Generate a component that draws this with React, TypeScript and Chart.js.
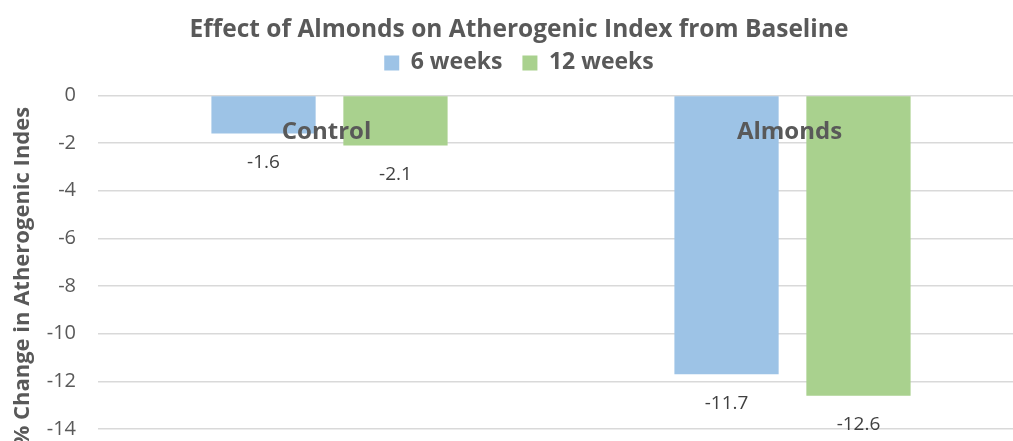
import React, { useEffect, useRef } from "react";
import { Chart, registerables } from "chart.js";

Chart.register(...registerables);

const chartTitle = "Effect of Almonds on Atherogenic Index from Baseline";
const yAxisTitle = "% Change in Atherogenic Indes";
const categories = ["Control", "Almonds"];
const seriesNames = ["6 weeks", "12 weeks"];
const sixWeeks = [-1.6, -11.7];
const twelveWeeks = [-2.1, -12.6];
const yMin = -14;
const yMax = 0;
const yStep = 2;

const FONT = "'Open Sans', 'DejaVu Sans', sans-serif";
const GREY = "#595959";

const labelPlugin = {
  id: "customLabels",
  afterDatasetsDraw(chart: any) {
    const ctx = chart.ctx;
    const xs = chart.scales.x;
    const ys = chart.scales.y;
    const area = chart.chartArea;
    ctx.save();
    // value labels below each bar
    ctx.font = `19px ${FONT}`;
    ctx.fillStyle = "#404040";
    ctx.textAlign = "center";
    ctx.textBaseline = "middle";
    chart.data.datasets.forEach((ds: any, di: number) => {
      const meta = chart.getDatasetMeta(di);
      meta.data.forEach((el: any, i: number) => {
        ctx.fillText(String(ds.data[i]), el.x, el.y + 29);
      });
    });
    // category labels just below the zero line
    ctx.font = `bold 24px ${FONT}`;
    ctx.fillStyle = GREY;
    const y0 = ys.getPixelForValue(0);
    categories.forEach((c, i) => {
      ctx.fillText(c, xs.getPixelForValue(i) - 3, y0 + 37);
    });
    // y axis title
    ctx.save();
    ctx.translate(23, (area.top + area.bottom) / 2 + 14);
    ctx.rotate(-Math.PI / 2);
    ctx.font = `bold 22px ${FONT}`;
    ctx.fillStyle = GREY;
    ctx.textAlign = "center";
    ctx.textBaseline = "middle";
    ctx.fillText(yAxisTitle, 0, 0);
    ctx.restore();
    ctx.restore();
  },
};

export default function App() {
  const ref = useRef<HTMLCanvasElement | null>(null);
  useEffect(() => {
    if (!ref.current) return;
    const chart = new Chart(ref.current, {
      type: "bar",
      data: {
        labels: categories,
        datasets: [
          {
            label: seriesNames[0],
            data: sixWeeks,
            backgroundColor: "#9DC3E6",
            categoryPercentage: 0.57,
            barPercentage: 0.79,
          },
          {
            label: seriesNames[1],
            data: twelveWeeks,
            backgroundColor: "#A9D18E",
            categoryPercentage: 0.57,
            barPercentage: 0.79,
          },
        ],
      },
      options: {
        responsive: false,
        animation: false,
        layout: { padding: { top: 0, right: 16, bottom: 12, left: 14 } },
        plugins: {
          title: {
            display: true,
            text: chartTitle,
            color: GREY,
            font: { family: FONT, size: 24.5, weight: "bold" },
            padding: { top: 15, bottom: -13 },
          },
          legend: {
            display: true,
            position: "top",
            labels: {
              color: GREY,
              font: { family: FONT, size: 23, weight: "bold" },
              boxWidth: 15,
              boxHeight: 15,
              padding: 20,
            },
          },
          tooltip: { enabled: false },
        },
        scales: {
          x: {
            display: true,
            position: "top",
            grid: { display: false },
            border: { display: false },
            ticks: { display: false },
            afterFit: (scale: any) => {
              scale.height = 11;
            },
          },
          y: {
            min: yMin,
            max: yMax,
            ticks: {
              stepSize: yStep,
              color: GREY,
              font: { family: FONT, size: 20 },
              padding: 22,
            },
            grid: { color: "#D9D9D9", lineWidth: 1.5, drawTicks: false },
            border: { display: false },
            afterFit: (scale: any) => {
              scale.width = 84;
              scale.paddingTop = 0;
              scale.paddingBottom = 0;
            },
          },
        },
      },
      plugins: [labelPlugin],
    });
    return () => chart.destroy();
  }, []);
  return (
    <div
      style={{
        position: "absolute",
        left: 0,
        top: 0,
        width: 1013,
        height: 441,
        overflow: "hidden",
        background: "#fff",
      }}
    >
      <canvas ref={ref} width={1040} height={441} />
    </div>
  );
}
